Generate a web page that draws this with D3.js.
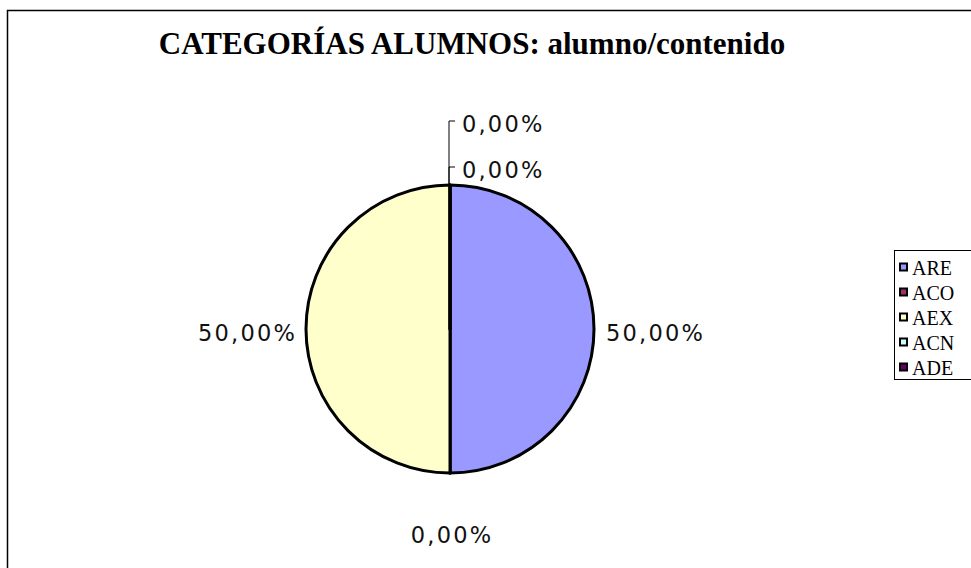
<!DOCTYPE html>
<html>
<head>
<meta charset="utf-8">
<script src="https://cdn.jsdelivr.net/npm/d3@7"></script>
<style>
  html, body { margin: 0; padding: 0; background: #fff; }
  svg { display: block; }
</style>
</head>
<body>
<div id="chart"></div>
<script>
// Chart data
const title = 'CATEGORÍAS ALUMNOS: alumno/contenido';
const categories = ['ARE', 'ACO', 'AEX', 'ACN', 'ADE'];
const percents = [50, 0, 50, 0, 0];
const colors = ['#9999FF', '#993366', '#FFFFCC', '#CCFFFF', '#660066'];

const width = 971, height = 568;
const svg = d3.select('#chart').append('svg')
  .attr('width', width)
  .attr('height', height);

// outer chart border (runs off the right and bottom edges)
svg.append('rect')
  .attr('x', 7.5).attr('y', 10.5)
  .attr('width', 1000).attr('height', 600)
  .attr('fill', '#fff')
  .attr('stroke', '#000')
  .attr('stroke-width', 1.5);

svg.append('text')
  .attr('x', 472).attr('y', 54)
  .attr('text-anchor', 'middle')
  .style('font-family', '"Liberation Serif", "Times New Roman", serif')
  .style('font-weight', 'bold')
  .style('font-size', '31px')
  .text(title);

const cx = 450, cy = 329, r = 144;
const fmt = v => d3.format('.2f')(v).replace('.', ',') + '%';

const pie = d3.pie().sort(null).value(d => d)
  .startAngle(0).endAngle(2 * Math.PI);
const arcs = pie(percents);
const arc = d3.arc().innerRadius(0).outerRadius(r);

const g = svg.append('g').attr('transform', `translate(${cx},${cy})`);

g.selectAll('path.slice')
  .data(arcs)
  .join('path')
  .attr('class', 'slice')
  .attr('d', arc)
  .attr('fill', (d, i) => colors[i])
  .attr('stroke', '#000')
  .attr('stroke-width', 3)
  .attr('stroke-linejoin', 'round');

// labels
const labelStyle = sel => sel
  .style('font-family', '"DejaVu Sans", Verdana, sans-serif')
  .style('font-size', '22.5px')
  .style('letter-spacing', '2.2px')
  .style('fill', '#111')
  .attr('dominant-baseline', 'central');

let stackTop = 0;
arcs.forEach((d, i) => {
  const a = (d.startAngle + d.endAngle) / 2;
  const s = Math.sin(a), c = -Math.cos(a); // c: vertical factor, -1 = top
  let x, y, anchor;
  if (d.value === 0 && c < -0.9) {
    // zero slices at the top: stacked upward with leader lines
    stackTop += 1;
    y = -r - 15 - (stackTop - 1) * 46;
    g.append('path')
      .attr('d', `M-1,${-r} V${y - 3} H5`)
      .attr('fill', 'none')
      .attr('stroke', '#000')
      .attr('stroke-width', 1);
    x = 12; anchor = 'start';
  } else if (s > 0.5) {
    x = r + 12; y = 4; anchor = 'start';
  } else if (s < -0.5) {
    x = -r - 9; y = 4; anchor = 'end';
  } else {
    x = 2; y = r + 62; anchor = 'middle';
  }
  g.append('text')
    .attr('x', x).attr('y', y)
    .attr('text-anchor', anchor)
    .call(labelStyle)
    .text(fmt(d.value));
});

// legend
const lg = svg.append('g').attr('transform', 'translate(894,250)');
lg.append('rect')
  .attr('x', 0.5).attr('y', 0.5)
  .attr('width', 120).attr('height', 129)
  .attr('fill', '#fff')
  .attr('stroke', '#000')
  .attr('stroke-width', 1);

const rowY = d3.scaleBand().domain(categories).range([5, 130]);
const items = lg.selectAll('g.item')
  .data(categories)
  .join('g')
  .attr('class', 'item')
  .attr('transform', d => `translate(0,${rowY(d) + rowY.bandwidth() / 2 - 4})`);

items.append('rect')
  .attr('x', 6).attr('y', 0)
  .attr('width', 7).attr('height', 7)
  .attr('fill', (d, i) => colors[i])
  .attr('stroke', '#000')
  .attr('stroke-width', 2);

items.append('text')
  .attr('x', 18).attr('y', 4)
  .attr('dominant-baseline', 'central')
  .style('font-family', '"Liberation Serif", "Times New Roman", serif')
  .style('font-size', '20px')
  .text(d => d);
</script>
</body>
</html>
